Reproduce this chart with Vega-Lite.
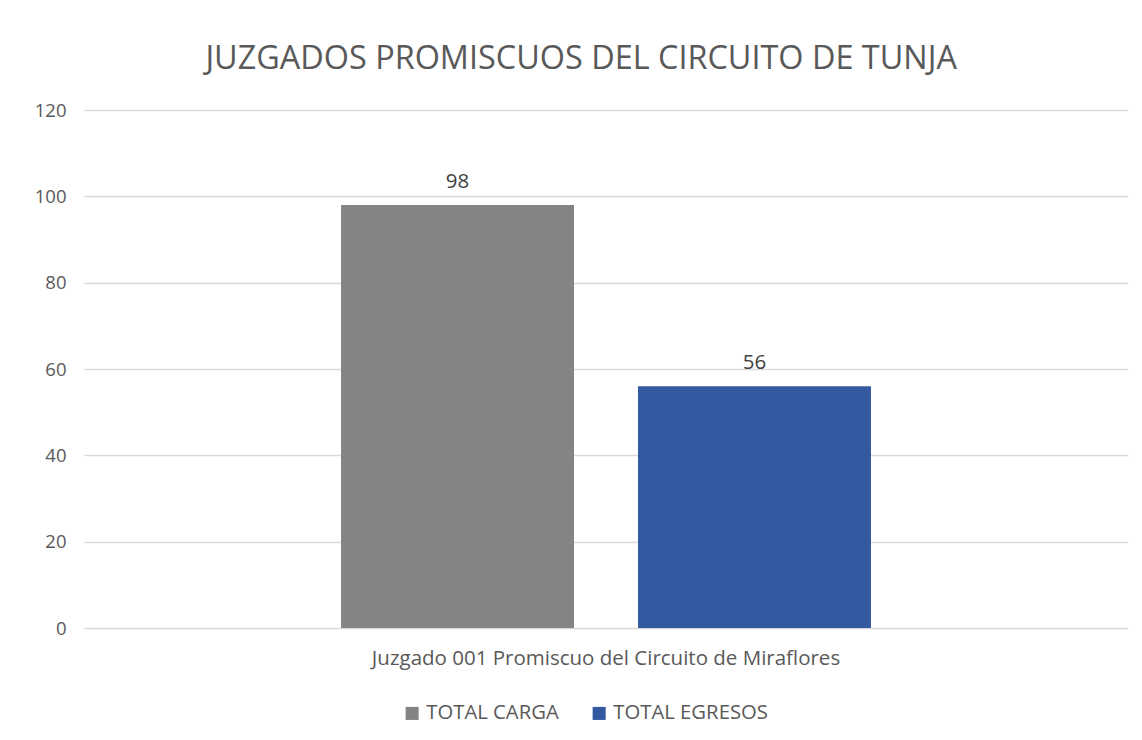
{
  "$schema": "https://vega.github.io/schema/vega-lite/v6.json",
  "width": 1044,
  "height": 518,
  "autosize": {"type": "none"},
  "padding": {"left": 84, "top": 110, "right": 14, "bottom": 112},
  "background": "white",
  "title": {
    "text": "JUZGADOS PROMISCUOS DEL CIRCUITO DE TUNJA",
    "font": "Open Sans",
    "fontSize": 32.4,
    "fontWeight": "normal",
    "color": "#595959",
    "anchor": "middle",
    "frame": "bounds",
    "offset": 26
  },
  "data": {
    "values": [
      {"juzgado": "Juzgado 001 Promiscuo del Circuito de Miraflores", "serie": "TOTAL CARGA", "valor": 98},
      {"juzgado": "Juzgado 001 Promiscuo del Circuito de Miraflores", "serie": "TOTAL EGRESOS", "valor": 56}
    ]
  },
  "encoding": {
    "x": {
      "field": "juzgado",
      "type": "nominal",
      "scale": {"paddingInner": 0, "paddingOuter": 0.485},
      "axis": {
        "title": null,
        "labelAngle": 0,
        "labelLimit": 0,
        "labelFont": "Open Sans",
        "labelFontSize": 20.5,
        "labelColor": "#595959",
        "labelPadding": 20,
        "domain": false,
        "ticks": false
      }
    },
    "xOffset": {
      "field": "serie",
      "type": "nominal",
      "scale": {"paddingInner": 0.2155, "paddingOuter": 0}
    },
    "y": {
      "field": "valor",
      "type": "quantitative",
      "scale": {"domain": [0, 120]},
      "axis": {
        "title": null,
        "values": [0, 20, 40, 60, 80, 100, 120],
        "labelFont": "Open Sans",
        "labelFontSize": 18.5,
        "labelColor": "#595959",
        "labelPadding": 18,
        "domain": false,
        "ticks": false,
        "gridColor": "#d9d9d9",
        "gridWidth": 1.3
      }
    }
  },
  "layer": [
    {
      "mark": {"type": "bar"},
      "encoding": {
        "color": {
          "field": "serie",
          "type": "nominal",
          "scale": {"domain": ["TOTAL CARGA", "TOTAL EGRESOS"], "range": ["#848484", "#3359a0"]},
          "legend": {
            "title": null,
            "orient": "none",
            "direction": "horizontal",
            "legendX": 318,
            "legendY": 593,
            "symbolType": "square",
            "symbolSize": 170,
            "symbolStrokeWidth": 0,
            "labelFont": "Open Sans",
            "labelFontSize": 20.3,
            "labelColor": "#595959",
            "labelOffset": 4,
            "columnPadding": 30
          }
        }
      }
    },
    {
      "mark": {"type": "text", "baseline": "alphabetic", "align": "center", "dy": -17, "font": "Open Sans", "fontSize": 20.5, "color": "#404040"},
      "encoding": {
        "text": {"field": "valor", "type": "quantitative"}
      }
    }
  ],
  "config": {
    "view": {"stroke": null}
  }
}
